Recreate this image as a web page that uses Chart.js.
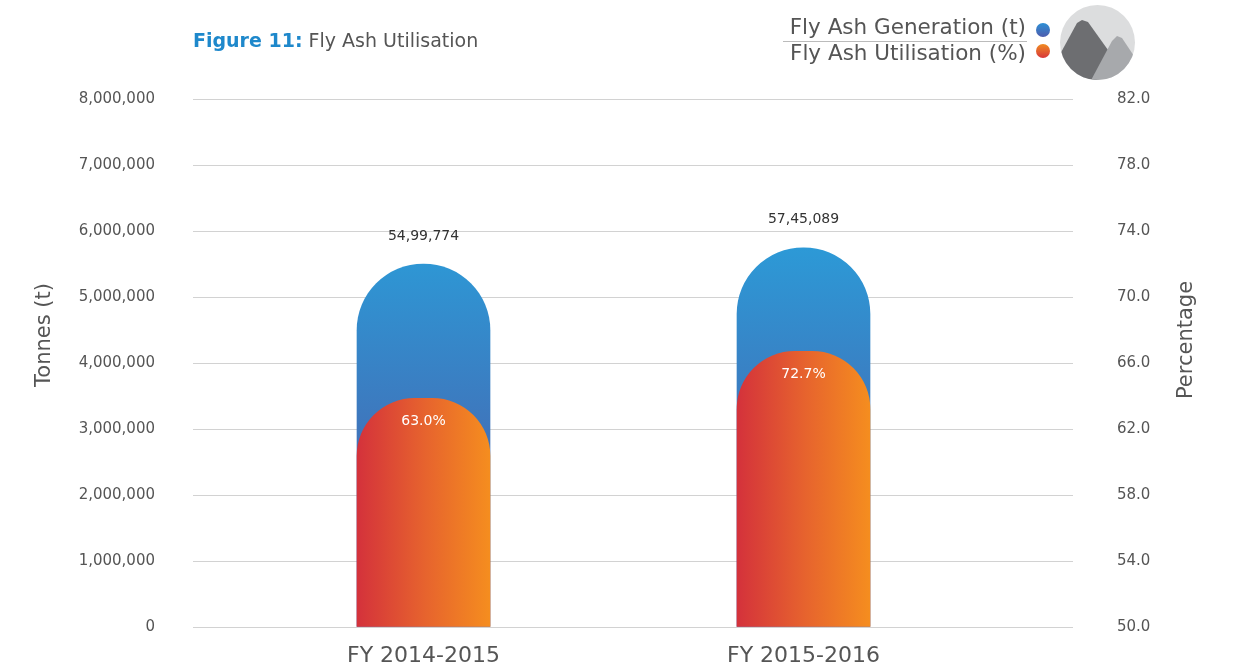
<!DOCTYPE html>
<html>
<head>
<meta charset="utf-8">
<script src="https://cdn.jsdelivr.net/npm/chart.js@4"></script>
<style>
html,body{margin:0;padding:0;background:#fff;}
#wrap{position:relative;width:1243px;height:665px;font-family:"DejaVu Sans",sans-serif;overflow:hidden;}
#c{position:absolute;left:0;top:0;}
.title{position:absolute;left:193px;top:27px;font-size:19px;line-height:26px;color:#555;white-space:nowrap;}
.title b{color:#1E88CB;font-weight:700;}
.leg{position:absolute;right:217px;font-size:21.5px;line-height:26px;color:#555;white-space:nowrap;text-align:right;}
#l1{top:14px;}
#l2{top:40px;}
#sep{position:absolute;left:783px;top:41px;width:244px;height:1px;background:#bbb;}
.dot{position:absolute;width:14px;height:14px;border-radius:50%;}
#d1{left:1036px;top:23px;background:linear-gradient(#2E90D5,#4E5CAD);}
#d2{left:1036px;top:44px;background:linear-gradient(#F08C22,#D7363A);}
#icon{position:absolute;left:1058px;top:3px;}
</style>
</head>
<body>
<div id="wrap">
<canvas id="c" width="1243" height="665"></canvas>
<div class="title"><b>Figure 11:</b> Fly Ash Utilisation</div>
<div class="leg" id="l1">Fly Ash Generation (t)</div>
<div id="sep"></div>
<div class="leg" id="l2">Fly Ash Utilisation (%)</div>
<div class="dot" id="d1"></div>
<div class="dot" id="d2"></div>
<svg id="icon" width="80" height="80" viewBox="1058 3 80 80">
  <defs><clipPath id="cc"><circle cx="1097.5" cy="42.5" r="37.5"/></clipPath></defs>
  <circle cx="1097.5" cy="42.5" r="37.5" fill="#DCDDDE"/>
  <g clip-path="url(#cc)">
    <polygon points="1058,58 1077,23 1082,20 1088,22 1113,57 1094,84 1058,84" fill="#6D6E71"/>
    <polygon points="1089,84 1112,41 1117,36 1122,38 1142,68 1142,84" fill="#A7A9AC"/>
  </g>
</svg>
</div>
<script>
const categories = ['FY 2014-2015', 'FY 2015-2016'];
const generationTonnes = [5499774, 5745089];
const utilisationPercent = [63.0, 72.7];
const utilisedTonnes = [3465000, 4177000];
const leftTicks = [0, 1000000, 2000000, 3000000, 4000000, 5000000, 6000000, 7000000, 8000000];
const rightTicks = [50, 54, 58, 62, 66, 70, 74, 78, 82];

function fmtIndian(n) {
  const s = String(Math.round(n));
  if (s.length <= 3) return s;
  let last3 = s.slice(-3), rest = s.slice(0, -3);
  rest = rest.replace(/\B(?=(\d{2})+(?!\d))/g, ',');
  return rest + ',' + last3;
}
function fmtWestern(n) {
  return String(Math.round(n)).replace(/\B(?=(\d{3})+(?!\d))/g, ',');
}

const FONT = '"DejaVu Sans",sans-serif';

function blueGrad(ctx) {
  const chart = ctx.chart;
  const ys = chart.scales && chart.scales.y;
  if (!chart.chartArea || !ys) return '#3A80C4';
  const g = chart.ctx.createLinearGradient(0, ys.getPixelForValue(5800000), 0, ys.getPixelForValue(0));
  g.addColorStop(0, '#2C9AD7');
  g.addColorStop(1, '#5250A0');
  return g;
}
function orangeGrad(ctx) {
  const chart = ctx.chart;
  const xs = chart.scales && chart.scales.x;
  if (!chart.chartArea || !xs || ctx.dataIndex === undefined) return '#E5602C';
  const cx = xs.getPixelForValue(ctx.dataIndex);
  const g = chart.ctx.createLinearGradient(cx - 66, 0, cx + 66, 0);
  g.addColorStop(0, '#D4323B');
  g.addColorStop(0.5, '#E6622E');
  g.addColorStop(1, '#F58D1F');
  return g;
}

const labelPlugin = {
  id: 'labels',
  afterDatasetsDraw(chart) {
    const c = chart.ctx;
    c.save();
    c.textAlign = 'center';
    c.textBaseline = 'middle';
    const genMeta = chart.getDatasetMeta(1);
    c.font = '14px ' + FONT;
    c.fillStyle = '#333';
    genMeta.data.forEach((el, i) => {
      c.fillText(fmtIndian(generationTonnes[i]), el.x, el.y - 28);
    });
    const utMeta = chart.getDatasetMeta(0);
    c.font = '14px ' + FONT;
    c.fillStyle = '#fff';
    utMeta.data.forEach((el, i) => {
      c.fillText(utilisationPercent[i].toFixed(1) + '%', el.x, el.y + 23);
    });
    c.font = '21px ' + FONT;
    c.fillStyle = '#555';
    c.save();
    c.translate(45, 335);
    c.rotate(-Math.PI / 2);
    c.fillText('Tonnes (t)', 0, 0);
    c.restore();
    c.save();
    c.translate(1187, 340);
    c.rotate(-Math.PI / 2);
    c.fillText('Percentage', 0, 0);
    c.restore();
    c.restore();
  }
};

new Chart(document.getElementById('c'), {
  type: 'bar',
  data: {
    datasets: [
      {
        label: 'Fly Ash Utilisation (%)',
        data: utilisedTonnes.map((v, i) => ({x: i, y: v})),
        backgroundColor: orangeGrad,
        borderRadius: {topLeft: 58, topRight: 58, bottomLeft: 0, bottomRight: 0},
        borderSkipped: 'bottom',
        barThickness: 133,
        maxBarThickness: 133,
        grouped: false,
        yAxisID: 'y',
        order: 0
      },
      {
        label: 'Fly Ash Generation (t)',
        data: generationTonnes.map((v, i) => ({x: i, y: v})),
        backgroundColor: blueGrad,
        borderRadius: {topLeft: 67, topRight: 67, bottomLeft: 0, bottomRight: 0},
        borderSkipped: 'bottom',
        barThickness: 133,
        maxBarThickness: 133,
        grouped: false,
        yAxisID: 'y',
        order: 1
      }
    ]
  },
  options: {
    responsive: false,
    animation: false,
    layout: {padding: {top: 99, left: 0, right: 0, bottom: 0}},
    plugins: {legend: {display: false}, tooltip: {enabled: false}},
    scales: {
      x: {
        type: 'linear',
        offset: false,
        bounds: 'data',
        min: -0.6066,
        max: 1.7092,
        grid: {display: false, drawTicks: false},
        border: {display: false},
        afterBuildTicks: s => { s.ticks = categories.map((c, i) => ({value: i})); },
        afterFit: s => { s.height = 38; },
        ticks: {
          autoSkip: false, maxRotation: 0, padding: 16,
          callback: v => categories[Math.round(v)],
          font: {family: FONT, size: 22}, color: '#555'
        }
      },
      y: {
        position: 'left',
        min: 0, max: 8000000,
        afterBuildTicks: s => { s.ticks = leftTicks.map(v => ({value: v})); },
        afterFit: s => { s.width = 193; s.paddingTop = 0; s.paddingBottom = 0; },
        grid: {color: '#d2d2d2', lineWidth: 1, drawTicks: false},
        border: {display: false},
        ticks: {
          padding: 38,
          callback: v => fmtWestern(v),
          font: {family: FONT, size: 15}, color: '#555'
        }
      },
      y1: {
        position: 'right',
        min: 50, max: 82,
        afterBuildTicks: s => { s.ticks = rightTicks.map(v => ({value: v})); },
        afterFit: s => { s.width = 170; s.paddingTop = 0; s.paddingBottom = 0; },
        grid: {display: false, drawTicks: false},
        border: {display: false},
        ticks: {
          padding: 44,
          callback: v => Number(v).toFixed(1),
          font: {family: FONT, size: 15}, color: '#555'
        }
      }
    }
  },
  plugins: [labelPlugin]
});
</script>
</body>
</html>
